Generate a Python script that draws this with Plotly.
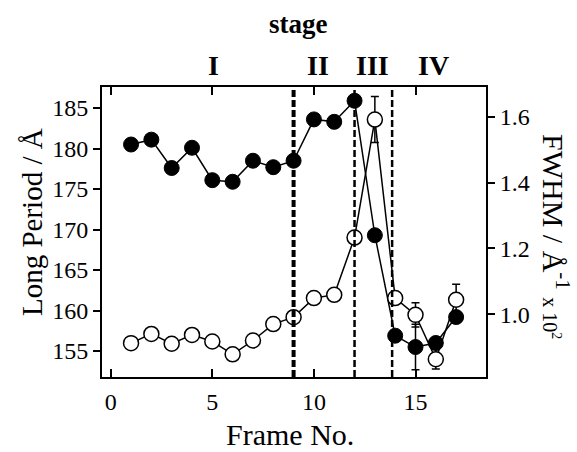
import plotly.graph_objects as go

# ---- data ----
frames = [1, 2, 3, 4, 5, 6, 7, 8, 9, 10, 11, 12, 13, 14, 15, 16, 17]
long_period = [180.5, 181.1, 177.6, 180.1, 176.1, 175.9, 178.5, 177.7, 178.5,
               183.6, 183.3, 185.9, 169.3, 156.9, 155.5, 156.0, 159.2]
long_period_err = [0, 0, 0, 0, 0, 0, 0, 0, 0, 0, 0, 0, 0, 0, 2.8, 0, 0]
fwhm = [0.912, 0.940, 0.910, 0.937, 0.917, 0.878, 0.920, 0.970, 0.991,
        1.049, 1.059, 1.233, 1.592, 1.049, 0.998, 0.863, 1.044]
fwhm_err = [0, 0, 0, 0, 0, 0, 0, 0, 0, 0, 0, 0, 0.07, 0, 0.037, 0.03, 0.047]
stage_bounds = [9, 12, 13.85]
stage_bound_widths = [4, 2.5, 2.5]
stage_labels = ["I", "II", "III", "IV"]
stage_label_x = [5.05, 10.2, 12.9, 15.9]
x_ticks = [0, 5, 10, 15]
y_left_ticks = [155, 160, 165, 170, 175, 180, 185]
y_right_ticks = [1.0, 1.2, 1.4, 1.6]

W, H = 577, 452
L, R, T, B = 102, 486, 87, 377
FONT = "Liberation Serif"


def px_x(px):
    return (px - L) / (R - L)


def px_y(py):
    return (B - py) / (B - T)


fig = go.Figure()

fig.add_trace(go.Scatter(
    x=frames, y=fwhm, yaxis="y2", mode="lines+markers",
    line=dict(color="black", width=1.5),
    marker=dict(size=15, color="white", line=dict(color="black", width=1.5)),
    error_y=dict(type="data", array=fwhm_err, visible=True, color="black",
                 thickness=1.5, width=4),
    showlegend=False,
))
fig.add_trace(go.Scatter(
    x=frames, y=long_period, mode="lines+markers",
    line=dict(color="black", width=1.5),
    marker=dict(size=15, color="black", line=dict(color="black", width=1)),
    error_y=dict(type="data", array=long_period_err, visible=True, color="black",
                 thickness=1.5, width=4),
    showlegend=False,
))

for xb, wb in zip(stage_bounds, stage_bound_widths):
    fig.add_shape(type="line", xref="x", yref="paper", x0=xb, x1=xb, y0=0, y1=1,
                  line=dict(color="black", width=wb, dash="7px,3px"), layer="above")

annotations = []
annotations.append(dict(text="<b>stage</b>", xref="paper", yref="paper",
                        x=px_x(298), y=px_y(24), showarrow=False,
                        font=dict(family=FONT, size=27, color="black"),
                        xanchor="center", yanchor="middle"))
for lab, lx in zip(stage_labels, stage_label_x):
    annotations.append(dict(text="<b>%s</b>" % lab, xref="x", yref="paper",
                            x=lx, y=px_y(66), showarrow=False,
                            font=dict(family=FONT, size=28, color="black"),
                            xanchor="center", yanchor="middle"))
annotations.append(dict(text="Long Period / Å", xref="paper", yref="paper",
                        x=px_x(32), y=px_y(222), showarrow=False, textangle=-90,
                        font=dict(family=FONT, size=29, color="black"),
                        xanchor="center", yanchor="middle"))
annotations.append(dict(
    text="FWHM / Å<sup>-1</sup> <span style='font-size:20px'>x 10<sup>2</sup></span>",
    xref="paper", yref="paper", x=px_x(556), y=px_y(236), showarrow=False,
    textangle=90, font=dict(family=FONT, size=30, color="black"),
    xanchor="center", yanchor="middle"))
annotations.append(dict(text="Frame No.", xref="paper", yref="paper",
                        x=px_x(290), y=px_y(434), showarrow=False,
                        font=dict(family=FONT, size=30, color="black"),
                        xanchor="center", yanchor="middle"))

fig.update_layout(
    width=W, height=H,
    margin=dict(l=L, r=W - R, t=T, b=H - B, pad=0),
    paper_bgcolor="white", plot_bgcolor="white",
    font=dict(family=FONT, size=24, color="black"),
    annotations=annotations,
    xaxis=dict(range=[-0.43, 18.47], tickvals=x_ticks, ticks="inside", ticklen=8,
               tickwidth=1.5, tickcolor="black", showline=True, linewidth=2,
               linecolor="black", mirror="ticks", showgrid=False, zeroline=False,
               ticklabelstandoff=2, tickfont=dict(size=24)),
    yaxis=dict(range=[151.8, 187.6], tickvals=y_left_ticks, ticks="outside",
               ticklen=7, tickwidth=1.5, tickcolor="black", showline=True,
               linewidth=2, linecolor="black", showgrid=False, zeroline=False,
               tickfont=dict(size=24)),
    yaxis2=dict(range=[0.809, 1.691], tickvals=y_right_ticks, tickformat=".1f",
                overlaying="y", side="right", ticks="outside", ticklen=7,
                tickwidth=1.5, tickcolor="black", showline=True, linewidth=2,
                linecolor="black", showgrid=False, zeroline=False,
                tickfont=dict(size=24)),
)

fig.write_html("out.html")
